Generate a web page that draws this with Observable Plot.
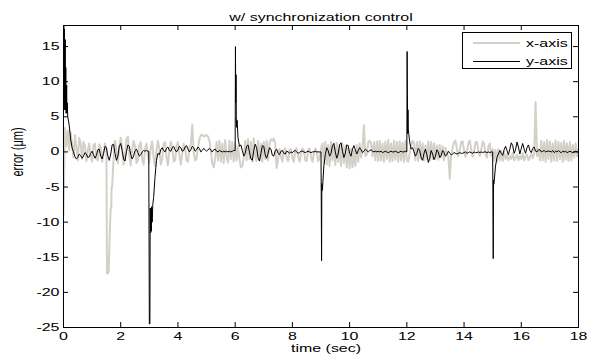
<!DOCTYPE html>
<html><head><meta charset="utf-8">
<script src="https://cdn.jsdelivr.net/npm/d3@7"></script>
<script src="https://cdn.jsdelivr.net/npm/@observablehq/plot@0.6"></script>
<style>
body{margin:0;background:#fff;}
#wrap{position:relative;width:597px;height:360px;}
#legend{position:absolute;left:462px;top:32px;width:110px;height:37px;border:1px solid #000;background:#fff;box-sizing:border-box;font-family:"Liberation Sans",Arial,sans-serif;font-size:11px;color:#000;}
.lg-line{position:absolute;left:10px;width:47px;}
.lg-text{position:absolute;left:63px;display:inline-block;transform:scaleX(1.45);transform-origin:left center;line-height:12px;white-space:nowrap;}
</style>
</head><body>
<div id="wrap"><div id="legend"></div></div>
<script>
// ---- text ----
const titleText = "w/ synchronization control";
const xLabelText = "time (sec)";
const yLabelText = "error (\u03bcm)";
const seriesNames = ["x-axis", "y-axis"];
const seriesColors = ["#d3d0c8", "#000000"];
const xTicks = [0, 2, 4, 6, 8, 10, 12, 14, 16, 18];
const yTicks = [-25, -20, -15, -10, -5, 0, 5, 10, 15];

// ---- sampled values every 0.05 s, 0 .. 18 s ----
// x-axis error (grey)
const xAxisErr = [
 -9.0, 3.4, 0.8, 3.0, 0.2, 2.8, 1.0, -0.8, 2.4, 0.6, -1.2, 2.0, 1.2, -1.0, 1.4, 0.8, -1.3, 0.2, 1.2, -0.6,
 -1.4, 1.0, 1.2, -1.0, -1.2, 1.1, 0.6, -1.4, -0.2, 1.2, 0.5, -17.3, -14.0, -8.0, -5.0, -1.0, 1.6, 0.2, -1.6, 0.6,
 2.0, 0.4, -1.8, -0.6, 1.8, 2.2, -0.4, -1.9, 0.2, 1.6, 0.8, -1.6, -1.2, 1.0, 1.4, -1.0, -1.8, 0.4, 1.2, -0.4,
 -1.6, 0.6, 1.5, -0.8, -2.0, 0.2, 1.6, 0.4, -1.8, -1.0, 1.2, 1.4, -0.6, -1.9, 0.0, 1.5, 0.6, -1.4, -1.2, 0.8,
 1.4, -0.4, -1.8, -0.2, 1.2, 0.6, -1.2, -1.4, 0.6, 1.0, 3.9, 0.0, -1.2, -1.0, 0.6, 1.8, 2.4, 2.4, 2.2, 2.3,
 2.4, 2.2, 1.6, 0.2, -1.6, -2.2, -1.0, 1.4, -1.2, 1.6, -1.4, 1.2, -1.6, 1.7, -0.8, -1.5, 1.6, -1.0, 1.4, -1.4,
 1.2, -1.2, 0.8, -1.0, -2.2, -2.0, -0.8, 1.6, -1.2, 1.8, -1.0, 1.4, -1.4, 1.9, -0.6, -1.3, 1.6, -1.2, 1.2, -1.4,
 1.4, -1.0, 1.6, -1.2, 1.2, 1.8, 1.6, 1.9, 1.2, -2.3, -1.0, 0.4, -0.6, -1.4, 0.2, 0.5, -0.8, -1.3, 0.3, 0.4,
 -0.9, -1.4, 0.2, 0.5, -0.6, -1.4, -0.4, 0.5, 0.2, -1.2, -1.3, 0.3, 0.5, -0.6, -1.4, -0.3, 0.5, 0.0, -1.3, -0.8,
 0.4, 1.2, -1.6, 1.4, -1.8, 1.0, -2.0, 1.4, -1.2, 1.2, -1.9, 1.3, -1.4, 1.0, -2.0, 1.2, -1.6, 0.8, -2.2, 0.6,
 -2.3, 0.4, -2.2, 0.2, -2.0, 1.0, -1.4, 1.2, -0.8, 0.6, 3.8, -0.6, -0.4, 1.4, 1.6, 1.2, -0.6, 1.4, -1.2, 1.5,
 -1.3, 1.6, -1.2, 1.2, -1.4, 1.5, -1.0, 1.7, -1.4, 1.2, -1.3, 1.6, -1.1, 1.4, -1.4, 1.5, -1.2, 1.3, -1.4, 1.6,
 -1.2, -1.4, -0.2, 1.0, 1.6, 1.2, -1.2, 1.4, -1.3, 1.5, -1.0, 1.2, -1.2, 0.9, -1.0, 1.5, -1.2, 1.4, -1.0, 1.2,
 -1.0, 0.9, -1.1, 1.0, -0.8, 0.8, -1.2, 0.6, -0.4, -0.6, -3.8, -0.4, 0.6, 1.4, 1.6, 0.4, -0.6, 0.2, 1.4, 1.5,
 0.2, -0.7, 0.0, 1.3, 1.6, 0.4, -0.7, 0.0, 1.4, 1.4, 0.2, -0.6, 0.3, 1.5, 1.2, -0.4, -0.8, 0.8, 1.2, -0.6,
 0.4, -1.2, 0.3, -1.4, 0.4, -1.2, 0.2, -1.3, 0.0, -1.0, -0.4, -1.2, -0.6, -1.0, -0.2, -1.2, -0.8, -0.4, -1.2, -0.6,
 -1.0, -0.2, -1.2, -0.6, -0.4, -1.2, -0.8, -0.2, -0.9, -0.4, 7.1, -0.6, 0.4, -1.2, 1.6, -1.2, 1.4, -1.4, 1.7, -1.0,
 1.5, -1.4, 1.2, -1.2, 1.6, -1.3, 1.4, -1.0, 1.3, -1.4, 1.6, -1.1, 1.2, -1.3, 1.4, -1.2, 1.0, -0.8, 1.2, -0.6, 0.4
];
// y-axis error (black)
const yAxisErr = [
 5.0, 6.0, 6.0, 5.0, 3.8, 1.8, 0.6, 0.0, -0.7, -1.0, -0.8, -0.3, -0.5, -0.9, -0.6, -0.1, -0.3, -0.8, -0.7, -0.2,
 0.1, -0.4, -0.9, -0.5, 0.3, 0.4, -0.6, -1.0, -0.2, 0.8, 0.6, -0.6, -1.2, -0.3, 1.0, 1.1, -0.2, -1.2, -0.6, 0.8,
 1.2, 0.2, -1.0, -1.3, 0.0, 1.0, 0.8, -0.4, -1.0, -0.6, 0.2, 0.4, -0.1, -0.6, -0.4, 0.0, 0.2, 0.1, 0.2, 0.1,
 -24.5, -11.5, -10.0, -6.5, -3.5, -1.2, -0.2, -0.4, 0.3, 0.6, 0.2, 0.0, 0.5, 0.7, 0.2, 0.1, 0.6, 0.8, 0.3, 0.0,
 0.3, 0.8, 0.6, 0.1, 0.2, 0.7, 0.9, 0.4, 0.0, 0.3, 0.8, 0.6, 0.1, 0.3, 0.7, 0.5, 0.0, 0.2, 0.5, 0.3,
 0.1, 0.3, 0.5, 0.2, 0.0, 0.3, 0.4, 0.1, 0.0, 0.2, 0.1, 0.0, 0.1, 0.0, 0.1, 0.0, 0.1, 0.0, 0.1, 0.2,
 0.2, 3.5, 2.0, 0.8, 1.0, 0.2, -0.6, -0.2, 0.8, 1.0, 0.0, -1.0, -1.2, 0.2, 1.1, 0.6, -0.8, -1.3, -0.2, 0.9,
 0.8, -0.4, -0.9, -0.2, 0.6, 0.4, -0.5, -0.6, 0.2, 0.4, -0.2, -0.4, 0.1, 0.2, -0.2, -0.3, 0.1, 0.0, -0.2, 0.0,
 -0.1, 0.1, 0.2, 0.0, -0.2, -0.1, 0.1, 0.1, 0.0, -0.1, 0.0, 0.1, 0.0, -0.1, 0.0, 0.0, 0.1, 0.0, 0.0, 0.0,
 0.0, -5.3, -2.0, -0.4, 0.6, 0.2, -0.6, -0.2, 0.9, 1.2, 0.0, -0.9, -0.3, 1.0, 1.3, 0.1, -0.8, -0.2, 1.0, 0.9,
 -0.2, -0.6, 0.4, 0.9, 0.3, -0.3, 0.2, 0.6, 0.3, -0.1, 0.1, 0.4, 0.2, 0.0, 0.2, 0.3, 0.1, 0.0, 0.1, 0.0,
 0.1, 0.0, 0.1, -0.1, 0.0, 0.1, 0.0, -0.1, 0.0, 0.1, 0.0, 0.0, 0.1, 0.0, -0.1, 0.0, 0.1, 0.0, 0.0, 0.1,
 0.0, 3.2, 1.4, 0.4, 0.6, 0.0, -0.6, -0.2, 0.5, 0.2, -0.8, -1.2, -0.2, 0.4, -0.4, -1.5, -0.9, 0.2, -0.3, -1.1,
 -0.6, 0.3, 0.0, -0.8, -0.5, 0.2, -0.1, -0.6, -0.4, 0.1, -0.2, -0.4, -0.3, -0.1, -0.2, -0.3, -0.2, -0.1, -0.2, -0.2,
 -0.1, 0.0, -0.2, -0.1, 0.0, -0.1, -0.2, 0.0, -0.1, -0.1, 0.0, -0.1, 0.0, -0.1, 0.0, 0.0, -0.1, 0.0, -0.1, 0.0,
 0.0, -4.3, -2.0, -0.8, -0.3, 0.2, -0.2, -0.5, 0.3, 0.8, 0.2, -0.4, 0.4, 1.3, 0.9, -0.2, 0.3, 1.4, 0.7, -0.3,
 0.5, 1.2, 0.4, -0.2, 0.6, 1.0, 0.2, -0.1, 0.5, 0.7, 0.1, 0.0, 0.3, 0.3, 0.0, 0.1, 0.2, 0.0, 0.1, 0.1,
 0.1, 0.0, 0.2, -0.1, 0.1, 0.0, 0.2, 0.0, -0.1, 0.1, 0.0, 0.1, -0.1, 0.0, 0.1, 0.0, -0.1, 0.0, 0.1, 0.0, 0.0
];
// extra fast transient samples (time, value)
const xSpikeT = [1.52, 1.58, 1.62, 1.67, 1.68];
const xSpikeV = [-17.3, -17.0, -11.0, -8.0, -5.0];
const ySpikeT = [0.01, 0.02, 0.03, 0.04, 0.06, 0.07, 0.08, 0.09, 0.11, 0.12, 0.13,
  2.98, 3.02, 3.03, 3.04, 3.06, 3.07, 3.08, 3.12,
  6.01, 6.02, 6.03, 6.04, 6.07,
  9.02, 9.03, 9.04,
  12.01, 12.02, 12.03, 12.04, 12.07,
  15.02, 15.03, 15.04];
const ySpikeV = [18.5, 6, 17.5, 6.5, 16, 6, 12, 5.5, 9.5, 5.5, 7,
  0.1, -24.5, -8, -11.5, -8, -11.3, -7.8, -7.5,
  15, 7, 11, 5, 4.5,
  -15.5, -4.5, -5.5,
  14.3, 8.3, 2.6, 6, 2.5,
  -15.2, -4, -4.6];

function build(vals, st, sv) {
  const d = vals.map((v, i) => ({t: Math.round(i * 5) / 100, v}));
  st.forEach((t, i) => d.push({t, v: sv[i]}));
  d.sort((a, b) => a.t - b.t);
  return d;
}
const xData = build(xAxisErr, xSpikeT, xSpikeV);
const yData = build(yAxisErr, ySpikeT, ySpikeV);

const W = 597, H = 360, mL = 63, mR = 19, mT = 25, mB = 33;
const fw = W - mL - mR, fh = H - mT - mB;
const fmt = d => String(d);

const chart = Plot.plot({
  width: W, height: H,
  marginLeft: mL, marginRight: mR, marginTop: mT, marginBottom: mB,
  style: {fontFamily: '"Liberation Sans", Arial, sans-serif', fontSize: "11px", background: "#fff", color: "#000", overflow: "visible"},
  x: {domain: [0, 18]},
  y: {domain: [-25, 18]},
  marks: [
    Plot.line(xData, {x: "t", y: "v", stroke: seriesColors[0], strokeWidth: 2, clip: true}),
    Plot.line(yData, {x: "t", y: "v", stroke: seriesColors[1], strokeWidth: 1, clip: true}),
    Plot.frame({stroke: "#000"}),
    Plot.tickX(xTicks, {x: d => d, insetTop: fh - 5, stroke: "#000"}),
    Plot.tickX(xTicks, {x: d => d, insetBottom: fh - 5, stroke: "#000"}),
    Plot.tickY(yTicks, {y: d => d, insetRight: fw - 5, stroke: "#000"}),
    Plot.tickY(yTicks, {y: d => d, insetLeft: fw - 5, stroke: "#000"}),
    Plot.axisX(xTicks, {tickSize: 0, tickPadding: 5, label: null, tickFormat: fmt}),
    Plot.axisY(yTicks, {tickSize: 0, tickPadding: 4, label: null, tickFormat: fmt}),
    Plot.text([titleText], {frameAnchor: "top", dy: -12}),
    Plot.text([xLabelText], {frameAnchor: "bottom", dy: 24, dx: 5}),
    Plot.text([yLabelText], {frameAnchor: "left", dx: -46, rotate: -90})
  ]
});

// horizontal stretch of glyphs, as in the reference picture
const SX = 1.45;
chart.querySelectorAll("text").forEach(t => {
  let tr = t.getAttribute("transform") || "";
  const rot = tr.includes("rotate");
  const x = t.getAttribute("x"), y = t.getAttribute("y");
  if ((x !== null && !isNaN(+x)) || (y !== null && !isNaN(+y))) {
    tr += ` translate(${+x || 0},${+y || 0})`;
    t.removeAttribute("x"); t.removeAttribute("y");
  }
  t.setAttribute("transform", tr + (rot ? ` scale(1,${SX})` : ` scale(${SX},1)`));
});

const wrap = document.getElementById("wrap");
wrap.insertBefore(chart, wrap.firstChild);

const legend = document.getElementById("legend");
seriesNames.forEach((name, i) => {
  const cy = 10 + i * 18;
  const ln = document.createElement("div");
  ln.className = "lg-line";
  ln.style.top = (cy - (i === 0 ? 1 : 0.5)) + "px";
  ln.style.height = (i === 0 ? 2 : 1) + "px";
  ln.style.background = seriesColors[i];
  legend.appendChild(ln);
  const tx = document.createElement("span");
  tx.className = "lg-text";
  tx.style.top = (cy - 6) + "px";
  tx.textContent = name;
  legend.appendChild(tx);
});
</script>
</body></html>
